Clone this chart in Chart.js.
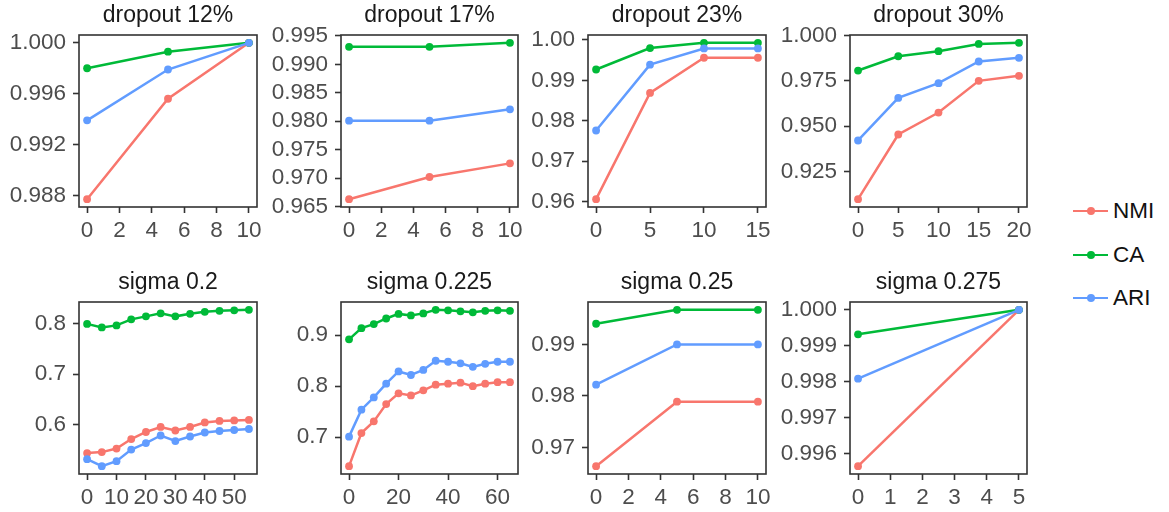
<!DOCTYPE html>
<html>
<head>
<meta charset="utf-8">
<script src="https://cdn.jsdelivr.net/npm/chart.js@4/dist/chart.umd.min.js"></script>
<style>
  body { margin: 0; background: #fff; width: 1169px; height: 512px; position: relative; overflow: hidden;
         font-family: 'Liberation Sans', Arial, sans-serif; }
  canvas.panel { position: absolute; }
  .legend-row { position: absolute; left: 1073px; height: 30px; display: flex; align-items: center; }
  .legend-key { position: relative; width: 35px; height: 30px; }
  .legend-key .bar { position: absolute; left: 0; top: 13.8px; width: 35px; height: 2.5px; }
  .legend-key .dot { position: absolute; left: 13.5px; top: 11px; width: 8px; height: 8px; border-radius: 50%; }
  .legend-row span { margin-left: 5px; font-size: 22.5px; color: #111; }
</style>
</head>
<body>
<script>
const seriesNames = ['NMI', 'CA', 'ARI'];
const seriesColors = ['#F8766D', '#00BA38', '#619CFF'];

// dropout 12%
const d12X = [0, 5, 10];
const d12NMI = [0.9877, 0.9956, 1.0];
const d12CA = [0.9980, 0.9993, 1.0];
const d12ARI = [0.9939, 0.9979, 1.0];
const d12XTicks = [0, 2, 4, 6, 8, 10];
const d12YTicks = [0.988, 0.992, 0.996, 1.000];

// dropout 17%
const d17X = [0, 5, 10];
const d17NMI = [0.9663, 0.9702, 0.9726];
const d17CA = [0.9931, 0.9931, 0.9938];
const d17ARI = [0.9801, 0.9801, 0.9821];
const d17XTicks = [0, 2, 4, 6, 8, 10];
const d17YTicks = [0.965, 0.970, 0.975, 0.980, 0.985, 0.990, 0.995];

// dropout 23%
const d23X = [0, 5, 10, 15];
const d23NMI = [0.9606, 0.9869, 0.9956, 0.9956];
const d23CA = [0.9927, 0.9980, 0.9993, 0.9993];
const d23ARI = [0.9776, 0.9939, 0.9979, 0.9979];
const d23XTicks = [0, 5, 10, 15];
const d23YTicks = [0.96, 0.97, 0.98, 0.99, 1.00];

// dropout 30%
const d30X = [0, 5, 10, 15, 20];
const d30NMI = [0.9097, 0.9454, 0.9575, 0.9750, 0.9778];
const d30CA = [0.9807, 0.9886, 0.9914, 0.9954, 0.9960];
const d30ARI = [0.9421, 0.9656, 0.9737, 0.9857, 0.9877];
const d30XTicks = [0, 5, 10, 15, 20];
const d30YTicks = [0.925, 0.950, 0.975, 1.000];

// sigma 0.2
const s200X = [0, 5, 10, 15, 20, 25, 30, 35, 40, 45, 50, 55];
const s200NMI = [0.543, 0.545, 0.552, 0.571, 0.585, 0.595, 0.588, 0.595, 0.604, 0.607, 0.608, 0.609];
const s200CA = [0.800, 0.793, 0.797, 0.809, 0.815, 0.821, 0.815, 0.820, 0.824, 0.826, 0.827, 0.828];
const s200ARI = [0.531, 0.517, 0.527, 0.550, 0.563, 0.578, 0.567, 0.576, 0.584, 0.587, 0.589, 0.591];
const s200XTicks = [0, 10, 20, 30, 40, 50];
const s200YTicks = [0.6, 0.7, 0.8];

// sigma 0.225
const s225X = [0, 5, 10, 15, 20, 25, 30, 35, 40, 45, 50, 55, 60, 65];
const s225NMI = [0.643, 0.708, 0.731, 0.765, 0.786, 0.782, 0.792, 0.803, 0.805, 0.807, 0.800, 0.805, 0.808, 0.808];
const s225CA = [0.892, 0.914, 0.922, 0.933, 0.942, 0.939, 0.943, 0.950, 0.949, 0.947, 0.945, 0.948, 0.949, 0.948];
const s225ARI = [0.701, 0.754, 0.778, 0.805, 0.829, 0.822, 0.832, 0.850, 0.848, 0.845, 0.838, 0.844, 0.848, 0.848];
const s225XTicks = [0, 20, 40, 60];
const s225YTicks = [0.7, 0.8, 0.9];

// sigma 0.25
const s250X = [0, 5, 10];
const s250NMI = [0.9664, 0.9789, 0.9789];
const s250CA = [0.9940, 0.9967, 0.9967];
const s250ARI = [0.9822, 0.9900, 0.9900];
const s250XTicks = [0, 2, 4, 6, 8, 10];
const s250YTicks = [0.97, 0.98, 0.99];

// sigma 0.275
const s275X = [0, 5];
const s275NMI = [0.99566, 1.0];
const s275CA = [0.99932, 1.0];
const s275ARI = [0.99809, 1.0];
const s275XTicks = [0, 1, 2, 3, 4, 5];
const s275YTicks = [0.996, 0.997, 0.998, 0.999, 1.000];

const panels = [
  { title: 'dropout 12%', x: d12X, series: [d12NMI, d12CA, d12ARI], xTicks: d12XTicks, yTicks: d12YTicks, dec: 3 },
  { title: 'dropout 17%', x: d17X, series: [d17NMI, d17CA, d17ARI], xTicks: d17XTicks, yTicks: d17YTicks, dec: 3 },
  { title: 'dropout 23%', x: d23X, series: [d23NMI, d23CA, d23ARI], xTicks: d23XTicks, yTicks: d23YTicks, dec: 2 },
  { title: 'dropout 30%', x: d30X, series: [d30NMI, d30CA, d30ARI], xTicks: d30XTicks, yTicks: d30YTicks, dec: 3 },
  { title: 'sigma 0.2', x: s200X, series: [s200NMI, s200CA, s200ARI], xTicks: s200XTicks, yTicks: s200YTicks, dec: 1 },
  { title: 'sigma 0.225', x: s225X, series: [s225NMI, s225CA, s225ARI], xTicks: s225XTicks, yTicks: s225YTicks, dec: 1 },
  { title: 'sigma 0.25', x: s250X, series: [s250NMI, s250CA, s250ARI], xTicks: s250XTicks, yTicks: s250YTicks, dec: 2 },
  { title: 'sigma 0.275', x: s275X, series: [s275NMI, s275CA, s275ARI], xTicks: s275XTicks, yTicks: s275YTicks, dec: 3 }
];

// panel grid: plot box positions in page pixels
const colLeft = [79, 341, 588, 850];
const colWidth = [178, 177, 178, 177];
const rowTop = [35, 302];
const boxHeight = 172;
const yAxisW = 78, titleH = 36, xAxisH = 42, rightPad = 16;

const fontFamily = "'Liberation Sans', Arial, sans-serif";
const titleSize = 23, tickSize = 22.5;

// frame around each plot area
const panelBorder = {
  id: 'panelBorder',
  afterDatasetsDraw(chart) {
    const a = chart.chartArea;
    const ctx = chart.ctx;
    ctx.save();
    ctx.strokeStyle = '#333333';
    ctx.lineWidth = 1.6;
    ctx.strokeRect(a.left, a.top, a.right - a.left, a.bottom - a.top);
    ctx.restore();
  }
};

// ggplot-style 5% expansion around the data range
function expand(lo, hi) {
  const pad = (hi - lo) * 0.05;
  return [lo - pad, hi + pad];
}

panels.forEach(function(p, i) {
  const col = i % 4, row = Math.floor(i / 4);
  const canvas = document.createElement('canvas');
  canvas.className = 'panel';
  const w = yAxisW + colWidth[col] + rightPad;
  const h = titleH + boxHeight + xAxisH;
  canvas.width = w;
  canvas.height = h;
  canvas.style.left = (colLeft[col] - yAxisW) + 'px';
  canvas.style.top = (rowTop[row] - titleH) + 'px';
  document.body.appendChild(canvas);

  const allY = [].concat(...p.series);
  const yr = expand(Math.min(...allY), Math.max(...allY));
  const xr = expand(Math.min(...p.x), Math.max(...p.x));

  const datasets = p.series.map(function(vals, k) {
    return {
      label: seriesNames[k],
      data: vals.map((v, j) => ({ x: p.x[j], y: v })),
      borderColor: seriesColors[k],
      backgroundColor: seriesColors[k],
      pointBackgroundColor: seriesColors[k],
      pointBorderWidth: 0,
      pointRadius: 3.9,
      borderWidth: 2.5,
      tension: 0,
      order: 2 - k
    };
  });

  const titleLine = titleSize * 1.2;

  new Chart(canvas.getContext('2d'), {
    type: 'line',
    data: { datasets: datasets },
    options: {
      responsive: false,
      animation: false,
      events: [],
      layout: { padding: { left: 0, right: rightPad, top: 0, bottom: 0 } },
      plugins: {
        legend: { display: false },
        tooltip: { enabled: false },
        title: {
          display: true,
          text: p.title,
          fullSize: false,
          color: '#1a1a1a',
          font: { family: fontFamily, size: titleSize, weight: 'normal', lineHeight: 1.2 },
          padding: { top: 3, bottom: titleH - 3 - titleLine }
        }
      },
      scales: {
        x: {
          type: 'linear',
          min: xr[0],
          max: xr[1],
          afterFit: s => { s.height = xAxisH; },
          afterBuildTicks: s => { s.ticks = p.xTicks.map(v => ({ value: v })); },
          grid: { drawOnChartArea: false, drawTicks: true, tickLength: 6, tickColor: '#333333', tickWidth: 1.6 },
          border: { display: false },
          ticks: {
            autoSkip: false, maxRotation: 0, minRotation: 0, padding: 4,
            color: '#4D4D4D',
            font: { family: fontFamily, size: tickSize },
            callback: v => String(v)
          }
        },
        y: {
          type: 'linear',
          min: yr[0],
          max: yr[1],
          afterFit: s => { s.width = yAxisW; },
          afterBuildTicks: s => { s.ticks = p.yTicks.map(v => ({ value: v })); },
          grid: { drawOnChartArea: false, drawTicks: true, tickLength: 6, tickColor: '#333333', tickWidth: 1.6 },
          border: { display: false },
          ticks: {
            autoSkip: false,
            padding: 7,
            color: '#4D4D4D',
            font: { family: fontFamily, size: tickSize },
            callback: v => Number(v).toFixed(p.dec)
          }
        }
      }
    },
    plugins: [panelBorder]
  });
});

// legend on the right: line with a point, then the series name
const legendCenters = [211, 255, 298];
seriesNames.forEach(function(name, k) {
  const row = document.createElement('div');
  row.className = 'legend-row';
  row.style.top = (legendCenters[k] - 15) + 'px';
  row.innerHTML = '<div class="legend-key"><div class="bar" style="background:' + seriesColors[k] +
    '"></div><div class="dot" style="background:' + seriesColors[k] + '"></div></div><span>' + name + '</span>';
  document.body.appendChild(row);
});
</script>
</body>
</html>
